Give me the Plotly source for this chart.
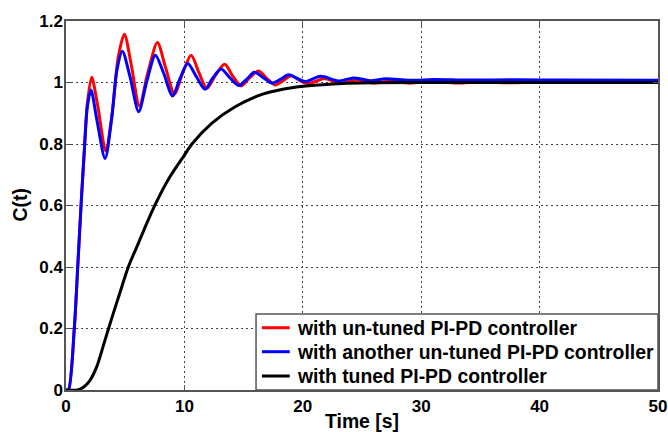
import plotly.graph_objects as go

# Red: with un-tuned PI-PD controller
red_t = [0, 0.2, 0.7, 0.99, 1.27, 1.55, 1.8, 2.17, 2.7, 3.35, 3.9, 4.4, 4.93, 5.5, 6.2, 6.9, 7.72,
         8.4, 9.16, 9.85, 10.57, 11.25, 11.9, 12.65, 13.4, 14.1, 14.8, 15.5, 16.26, 17.0, 17.67,
         18.3, 19.0, 19.7, 20.4, 21.1, 21.8, 23.2, 24.6, 26.0, 27.4, 29, 31, 33, 35, 37, 40, 45, 50]
red_y = [0, 0, 0.2, 0.4, 0.6, 0.78, 0.93, 1.017, 0.92, 0.778, 0.9, 1.08, 1.157, 1.06, 0.924, 1.03, 1.13,
         1.05, 0.963, 1.03, 1.089, 1.03, 0.981, 1.025, 1.059, 1.02, 0.989, 1.015, 1.037, 1.012, 0.992,
         1.005, 1.022, 1.008, 0.996, 1.004, 1.013, 0.998, 1.008, 0.998, 1.005, 0.998, 1.003, 0.998, 1.002, 0.999, 1.001, 1.0, 1.0]

# Blue: with another un-tuned PI-PD controller
blue_t = [0, 0.2, 0.7, 0.99, 1.27, 1.55, 1.8, 2.11, 2.6, 3.3, 3.85, 4.3, 4.76, 5.4, 6.14, 6.8, 7.55,
          8.25, 9.0, 9.6, 10.28, 11.0, 11.75, 12.4, 13.1, 13.85, 14.6, 15.3, 15.9, 16.7, 17.4,
          18.1, 18.8, 19.5, 20.2, 21.5, 23.0, 24.3, 25.7, 27.0, 29, 31, 34, 38, 42, 50]
blue_y = [0, 0, 0.2, 0.4, 0.6, 0.78, 0.92, 0.976, 0.88, 0.753, 0.88, 1.04, 1.102, 1.02, 0.905, 1.0, 1.089,
          1.03, 0.956, 1.01, 1.062, 1.02, 0.978, 1.015, 1.044, 1.015, 0.99, 1.012, 1.033, 1.015, 0.998,
          1.01, 1.025, 1.014, 1.003, 1.02, 1.005, 1.015, 1.006, 1.012, 1.007, 1.01, 1.008, 1.009, 1.008, 1.007]

# Black: with tuned PI-PD controller
black_t = [0, 1.0, 1.5, 2.0, 2.6, 3.2, 3.86, 4.5, 5.27, 6.11, 6.8, 7.52, 8.79, 9.92, 10.62, 12.3,
           14.29, 16.68, 19.2, 21, 23.4, 26, 30, 50]
black_y = [0, 0, 0.01, 0.03, 0.076, 0.15, 0.233, 0.31, 0.401, 0.477, 0.54, 0.602, 0.694, 0.759, 0.799, 0.867,
           0.921, 0.963, 0.984, 0.991, 0.997, 0.999, 1.0, 1.0]

series_names = ["with un-tuned PI-PD controller",
                "with another un-tuned PI-PD controller",
                "with tuned PI-PD controller"]
series_colors = ["#ff0000", "#0000ff", "#000000"]

x_ticks = [0, 10, 20, 30, 40, 50]
y_ticks = [0, 0.2, 0.4, 0.6, 0.8, 1, 1.2]
y_tick_labels = ["0", "0.2", "0.4", "0.6", "0.8", "1", "1.2"]
x_title = "Time [s]"
y_title = "C(t)"

FONT = "Liberation Sans, Arial, sans-serif"
TXT = dict(family=FONT, size=19.4, color="black", weight="bold")

fig = go.Figure()
for t, y, name, color in zip([red_t, blue_t, black_t], [red_y, blue_y, black_y],
                             series_names, series_colors):
    fig.add_trace(go.Scatter(x=t, y=y, mode="lines", name=name, showlegend=False,
                             line=dict(color=color, width=3, shape="spline", smoothing=0.8)))

axis_common = dict(
    showline=True, mirror="ticks", linecolor="#555555", linewidth=1.5,
    ticks="inside", ticklen=5, tickcolor="#555555",
    showgrid=True, gridcolor="#444444", gridwidth=1, griddash="2px,3px",
    zeroline=False, automargin=False,
    tickfont=dict(family=FONT, size=17, color="black", weight="bold"),
)

# legend box (MATLAB style) drawn in paper coordinates
leg_x0, leg_x1, leg_y0, leg_y1 = 0.321, 1.0, 0.0, 0.206
leg_line_x0, leg_line_x1, leg_text_x = 0.331, 0.378, 0.386
leg_rows = [0.1688, 0.1038, 0.0379]

shapes = [dict(type="rect", xref="paper", yref="paper", x0=leg_x0, x1=leg_x1, y0=leg_y0, y1=leg_y1,
               line=dict(color="#555555", width=1.5), fillcolor="white", layer="above")]
annotations = []
for yrow, name, color in zip(leg_rows, series_names, series_colors):
    shapes.append(dict(type="line", xref="paper", yref="paper", x0=leg_line_x0, x1=leg_line_x1,
                       y0=yrow, y1=yrow, line=dict(color=color, width=3), layer="above"))
    annotations.append(dict(text=name, xref="paper", yref="paper", x=leg_text_x, y=yrow,
                            xanchor="left", yanchor="middle", showarrow=False, font=TXT))

annotations += [
    dict(text=x_title, xref="paper", yref="paper", x=0.5, y=0, yshift=-31,
         xanchor="center", yanchor="middle", showarrow=False, font=TXT),
    dict(text=y_title, xref="paper", yref="paper", x=0, y=0.5, xshift=-47,
         xanchor="center", yanchor="middle", textangle=-90, showarrow=False, font=TXT),
]

fig.update_layout(
    width=668, height=432,
    margin=dict(l=66, r=10, t=21, b=42),
    paper_bgcolor="white", plot_bgcolor="white",
    showlegend=False,
    xaxis=dict(range=[0, 50], tickvals=x_ticks, ticklabeloverflow="allow", **axis_common),
    yaxis=dict(range=[0, 1.2], tickvals=y_ticks, ticktext=y_tick_labels,
               ticklabelstandoff=-2, **axis_common),
    shapes=shapes,
    annotations=annotations,
)

fig.write_html("out.html", config={"displayModeBar": False},
               post_script="document.body.style.margin='0';document.body.style.overflow='hidden';")
